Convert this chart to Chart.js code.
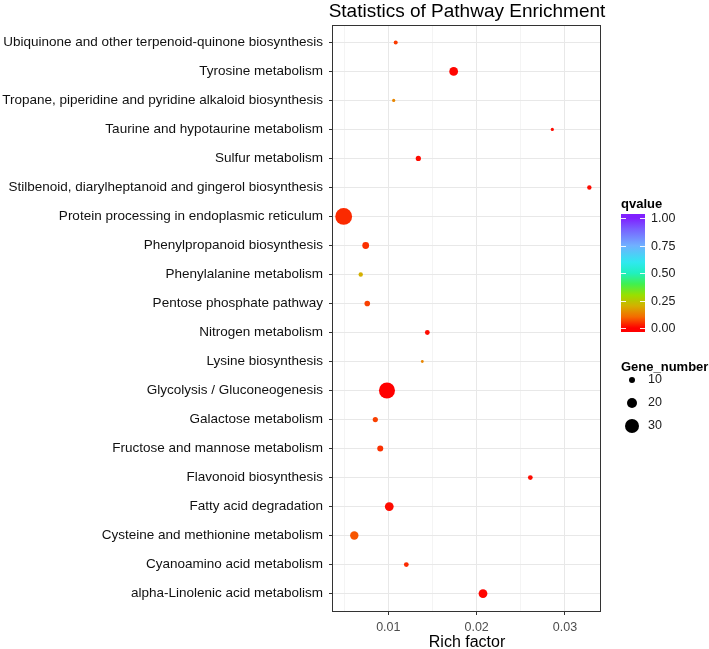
<!DOCTYPE html>
<html>
<head>
<meta charset="utf-8">
<script src="https://cdn.jsdelivr.net/npm/chart.js@4.4.1/dist/chart.umd.min.js"></script>
<style>
  html, body { margin: 0; padding: 0; background: #ffffff; }
  #wrap { width: 709px; height: 649px; }
</style>
</head>
<body>
<div id="wrap"><canvas id="c" width="709" height="649"></canvas></div>
<script>
// ---------------- data (top to bottom as displayed) ----------------
const pathways = [
  "Ubiquinone and other terpenoid-quinone biosynthesis",
  "Tyrosine metabolism",
  "Tropane, piperidine and pyridine alkaloid biosynthesis",
  "Taurine and hypotaurine metabolism",
  "Sulfur metabolism",
  "Stilbenoid, diarylheptanoid and gingerol biosynthesis",
  "Protein processing in endoplasmic reticulum",
  "Phenylpropanoid biosynthesis",
  "Phenylalanine metabolism",
  "Pentose phosphate pathway",
  "Nitrogen metabolism",
  "Lysine biosynthesis",
  "Glycolysis / Gluconeogenesis",
  "Galactose metabolism",
  "Fructose and mannose metabolism",
  "Flavonoid biosynthesis",
  "Fatty acid degradation",
  "Cysteine and methionine metabolism",
  "Cyanoamino acid metabolism",
  "alpha-Linolenic acid metabolism"
];
const richFactor = [0.01084, 0.0174, 0.01061, 0.02857, 0.0134, 0.03276, 0.00495, 0.00744, 0.00688, 0.00762,
                    0.01442, 0.01385, 0.00985, 0.00853, 0.00909, 0.02608, 0.01011, 0.00615, 0.01204, 0.02072];
const geneNumber = [5, 17, 3, 3, 8, 6, 37, 12, 6, 9, 7, 2, 35, 8, 10, 7, 17, 16, 7, 17];
const qValue = [0.055, 0.005, 0.14, 0.01, 0.01, 0.01, 0.04, 0.045, 0.2, 0.06,
                0.01, 0.14, 0.0, 0.06, 0.045, 0.01, 0.01, 0.08, 0.04, 0.005];

const xMajorTicks = [0.01, 0.02, 0.03];
const xMinorTicks = [0.005, 0.015, 0.025];
const xRange = [0.00374, 0.03408];
const qTicks = [0, 0.25, 0.5, 0.75, 1];
const qTickLabels = ["0.00", "0.25", "0.50", "0.75", "1.00"];
const sizeBreaks = [10, 20, 30];

// ---------------- styling helpers ----------------
const FONT = "'Liberation Sans', Arial, Helvetica, sans-serif";
const colorStops = [
  [0.00, [255, 0, 0]],
  [0.10, [245, 106, 0]],
  [0.20, [212, 176, 0]],
  [0.30, [152, 224, 0]],
  [0.40, [64, 240, 80]],
  [0.50, [32, 240, 192]],
  [0.60, [48, 232, 240]],
  [0.75, [112, 176, 255]],
  [0.90, [120, 96, 255]],
  [1.00, [128, 32, 255]]
];
function qColor(q) {
  for (let i = 1; i < colorStops.length; i++) {
    const [p1, c1] = colorStops[i - 1], [p2, c2] = colorStops[i];
    if (q <= p2) {
      const t = (q - p1) / (p2 - p1);
      const c = c1.map((v, k) => Math.round(v + (c2[k] - v) * t));
      return `rgb(${c[0]},${c[1]},${c[2]})`;
    }
  }
  const c = colorStops[colorStops.length - 1][1];
  return `rgb(${c[0]},${c[1]},${c[2]})`;
}
function radiusFor(n) { return 1 + 0.2 * n; }
const isMajor = v => xMajorTicks.some(m => Math.abs(m - v) < 1e-9);

const N = pathways.length;
const points = pathways.map((p, i) => ({ x: richFactor[i], y: N - 1 - i, r: radiusFor(geneNumber[i]) }));

// ---------------- overlay: title, border, legends ----------------
const overlay = {
  id: 'overlay',
  afterDraw(chart) {
    const ctx = chart.ctx, a = chart.chartArea;
    ctx.save();
    // panel border
    ctx.strokeStyle = '#333333';
    ctx.lineWidth = 1;
    ctx.strokeRect(a.left - 0.5, a.top + 0.5, a.right - a.left, a.bottom - a.top);
    const cx = (a.left + a.right) / 2;
    // title
    ctx.fillStyle = '#000000';
    ctx.textAlign = 'center';
    ctx.textBaseline = 'alphabetic';
    ctx.font = `19px ${FONT}`;
    ctx.fillText('Statistics of Pathway Enrichment', cx, 17);
    // x axis title
    ctx.font = `16px ${FONT}`;
    ctx.fillText('Rich factor', cx, 647);

    // colour bar legend
    const lx = 621;
    ctx.textAlign = 'left';
    ctx.font = `bold 13px ${FONT}`;
    ctx.fillText('qvalue', lx, 208);
    const barX = 621, barW = 24, barTop = 214, barBot = 332;
    const y0 = 328, y1 = 218;
    const grad = ctx.createLinearGradient(0, y0, 0, y1);
    colorStops.forEach(([p]) => grad.addColorStop(p, qColor(p)));
    ctx.fillStyle = grad;
    ctx.fillRect(barX, barTop, barW, barBot - barTop);
    ctx.strokeStyle = 'rgba(255,255,255,0.9)';
    ctx.lineWidth = 1;
    ctx.font = `12.5px ${FONT}`;
    ctx.textBaseline = 'middle';
    ctx.fillStyle = '#1a1a1a';
    qTicks.forEach((q, i) => {
      const y = Math.round(y0 + (y1 - y0) * q) + 0.5;
      ctx.beginPath();
      ctx.moveTo(barX, y); ctx.lineTo(barX + 5, y);
      ctx.moveTo(barX + barW - 5, y); ctx.lineTo(barX + barW, y);
      ctx.stroke();
      ctx.fillText(qTickLabels[i], 651, y);
    });

    // size legend
    ctx.textBaseline = 'alphabetic';
    ctx.fillStyle = '#000000';
    ctx.font = `bold 13px ${FONT}`;
    ctx.fillText('Gene_number', lx, 371);
    ctx.font = `12.5px ${FONT}`;
    ctx.textBaseline = 'middle';
    const sy = [380, 403, 426];
    sizeBreaks.forEach((n, i) => {
      ctx.fillStyle = '#000000';
      ctx.beginPath();
      ctx.arc(632, sy[i], radiusFor(n), 0, Math.PI * 2);
      ctx.fill();
      ctx.fillStyle = '#1a1a1a';
      ctx.fillText(String(n), 648, sy[i]);
    });
    ctx.restore();
  }
};

new Chart(document.getElementById('c'), {
  type: 'bubble',
  data: {
    datasets: [{
      data: points,
      backgroundColor: qValue.map(qColor),
      borderWidth: 0,
      hoverBorderWidth: 0
    }]
  },
  options: {
    responsive: false,
    animation: false,
    devicePixelRatio: 1,
    layout: { padding: { left: 0, top: 25, right: 108, bottom: 0 } },
    plugins: { legend: { display: false }, tooltip: { enabled: false }, title: { display: false } },
    scales: {
      x: {
        type: 'linear',
        min: xRange[0],
        max: xRange[1],
        afterBuildTicks: s => { s.ticks = [...xMinorTicks, ...xMajorTicks].sort((a, b) => a - b).map(v => ({ value: v })); },
        afterFit: s => { s.height = 38; },
        border: { display: false },
        grid: {
          color: '#e8e8e8',
          lineWidth: c => (c.tick && isMajor(c.tick.value)) ? 1 : 0.5,
          tickLength: 4,
          tickColor: c => (c.tick && isMajor(c.tick.value)) ? '#333333' : 'rgba(0,0,0,0)',
          tickWidth: 1
        },
        ticks: {
          autoSkip: false,
          maxRotation: 0,
          padding: 5,
          color: '#4d4d4d',
          font: { family: FONT, size: 12.5 },
          callback: v => isMajor(v) ? v.toFixed(2) : ''
        }
      },
      y: {
        type: 'linear',
        min: -0.6,
        max: N - 1 + 0.6,
        afterBuildTicks: s => { s.ticks = pathways.map((_, i) => ({ value: i })); },
        afterFit: s => { s.width = 333; },
        border: { display: false },
        grid: {
          color: '#e8e8e8',
          lineWidth: 1,
          tickLength: 4,
          tickColor: '#333333',
          tickWidth: 1
        },
        ticks: {
          autoSkip: false,
          padding: 6,
          color: '#111111',
          font: { family: FONT, size: 13.5 },
          callback: v => pathways[N - 1 - v]
        }
      }
    }
  },
  plugins: [overlay]
});
</script>
</body>
</html>
